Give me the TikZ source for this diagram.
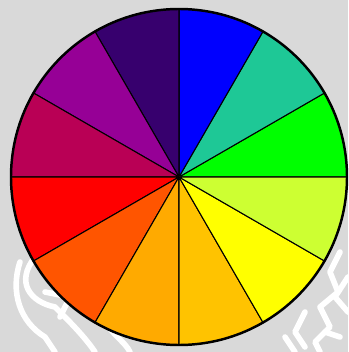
\documentclass[tikz,border=0pt]{standalone}
\usepackage{xcolor}
\usepackage{tikz}
\usetikzlibrary{calc,backgrounds}
\definecolor{wheelbg}{RGB}{217,217,217}
\definecolor{wheelGreen}{RGB}{0,255,0}
\definecolor{wheelTeal}{RGB}{30,200,150}
\definecolor{wheelBlue}{RGB}{0,0,255}
\definecolor{wheelIndigo}{RGB}{55,0,110}
\definecolor{wheelPurple}{RGB}{150,0,150}
\definecolor{wheelCrimson}{RGB}{185,0,85}
\definecolor{wheelRed}{RGB}{255,0,0}
\definecolor{wheelVermilion}{RGB}{255,85,0}
\definecolor{wheelOrange}{RGB}{255,170,0}
\definecolor{wheelAmber}{RGB}{255,195,0}
\definecolor{wheelYellow}{RGB}{255,255,0}
\definecolor{wheelLime}{RGB}{205,255,50}

\begin{document}
\begin{tikzpicture}[
  wedge/.style={draw=black,line width=0.3pt,line join=round},
  rim/.style={draw=black,line width=0.7pt},
  sketch/.style={draw=white,line width=1.6pt,line cap=round,line join=round}
]
% canvas 348 x 352 px, 1px = 0.01cm
\fill[wheelbg] (0,0) rectangle (3.48,3.52);
\useasboundingbox (0,0) rectangle (3.48,3.52);
\coordinate (c) at (1.79,1.75);
\def\rad{1.68}

% faint white line art behind the wheel
\draw[sketch] (0.35,0.95) .. controls (0.15,0.7) and (0.3,0.5) .. (0.55,0.45)
  .. controls (0.7,0.3) and (0.85,0.15) .. (0.95,0);
\draw[sketch] (0.2,0.9) .. controls (0.1,0.6) and (0.2,0.3) .. (0.45,0.15) -- (0.55,0);
\draw[sketch] (0.45,0.6) -- (0.7,0.55) -- (0.6,0.35);
\draw[sketch] (1.05,0.3) .. controls (1.15,0.15) and (1.25,0.1) .. (1.3,0);
\draw[sketch] (3.4,1.0) -- (3.3,0.8) -- (3.38,0.6) -- (3.2,0.45) -- (3.3,0.25) -- (3.15,0.1) -- (3.2,0);
\draw[sketch] (3.48,0.75) -- (3.35,0.55) -- (3.48,0.4);
\draw[sketch] (3.05,0.4) -- (2.95,0.2) -- (3.05,0.05);
\draw[sketch] (2.85,0.15) -- (2.95,0);
\draw[sketch] (3.25,0.2) -- (3.4,0.15);

% twelve 30 degree wedges, counter-clockwise from 0 degrees
\foreach \col [count=\i from 0] in {wheelGreen,wheelTeal,wheelBlue,wheelIndigo,
    wheelPurple,wheelCrimson,wheelRed,wheelVermilion,wheelOrange,wheelAmber,
    wheelYellow,wheelLime}
  \filldraw[wedge,fill=\col] (c) -- ($(c)+(\i*30:\rad)$)
    arc[start angle=\i*30,end angle=\i*30+30,radius=\rad] -- cycle;
\draw[rim] (c) circle[radius=\rad];
\end{tikzpicture}
\end{document}
